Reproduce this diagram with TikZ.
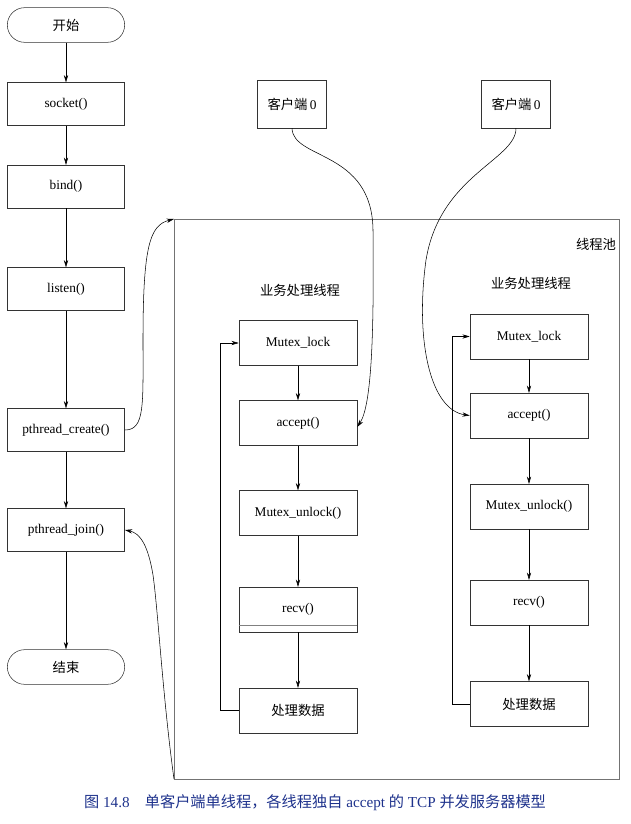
\documentclass[tikz,border=0pt]{standalone}
\usepackage{fontspec}
\setmainfont{Liberation Serif}
\newfontfamily\cjk{Noto Sans CJK SC}
\usetikzlibrary{arrows.meta}

\tikzset{
  box/.style={draw=black!80, minimum width=88pt, minimum height=32pt, inner sep=1pt, font=\normalsize},
  term/.style={box, rounded corners=13pt, minimum height=26pt},
  tbox/.style={draw=black!80, minimum width=88.5pt, minimum height=33.5pt, inner sep=1pt, font=\normalsize},
  cbox/.style={draw=black!80, minimum width=52pt, minimum height=36pt, inner sep=1pt, font=\normalsize},
  zh/.style={font=\normalsize\cjk},
  arr/.style={-{Stealth[length=5.5pt,width=3.2pt]}, thin},
}

\begin{document}
\begin{tikzpicture}[x=0.75pt, y=-0.75pt]

  \useasboundingbox (0,0) rectangle (631,824);

  % --- Thread utama (kolom kiri) ---
  \node[term] (start)  at (66,25)    {\cjk 开始};
  \node[box]  (sock)   at (66,104)   {socket()};
  \node[box]  (bind)   at (66,186.5) {bind()};
  \node[box]  (listen) at (66,289)   {listen()};
  \node[box]  (create) at (66,430)   {pthread\_create()};
  \node[box]  (join)   at (66,530)   {pthread\_join()};
  \node[term] (end)    at (66,667)   {\cjk 结束};

  \draw[arr] (start) -- (sock);
  \draw[arr] (sock) -- (bind);
  \draw[arr] (bind) -- (listen);
  \draw[arr] (listen) -- (create);
  \draw[arr] (create) -- (join);
  \draw[arr] (join) -- (end);

  % --- Kotak thread pool ---
  \coordinate (poolnw) at (174,219);
  \coordinate (poolsw) at (174,779);
  \draw[black!55] (poolnw) rectangle (619,779);
  \node[zh] (pool) at (596,244) {线程池};

  % --- Thread pekerja 1 ---
  \node[zh] (title1) at (300,290) {业务处理线程};
  \node[tbox] (lockA)   at (298,343)   {Mutex\_lock};
  \node[tbox] (acceptA) at (298,423)   {accept()};
  \node[tbox] (unlockA) at (298,513)   {Mutex\_unlock()};
  \node[tbox] (recvA)   at (298,609.5) {recv()};
  \node[tbox] (procA)   at (298,710.5) {\cjk 处理数据};
  \draw[black!50] ([yshift=5pt]recvA.south west) -- ([yshift=5pt]recvA.south east);

  \draw[arr] (lockA) -- (acceptA);
  \draw[arr] (acceptA) -- (unlockA);
  \draw[arr] (unlockA) -- (recvA);
  \draw[arr] (recvA) -- (procA);
  \draw[arr] (procA.west) -- ++(-18,0) |- (lockA.west);

  % --- Thread pekerja 2 ---
  \node[zh] (title2) at (531,283) {业务处理线程};
  \node[tbox] (lockB)   at (529,336.5) {Mutex\_lock};
  \node[tbox] (acceptB) at (529,415.5) {accept()};
  \node[tbox] (unlockB) at (529,506.5) {Mutex\_unlock()};
  \node[tbox] (recvB)   at (529,602.5) {recv()};
  \node[tbox] (procB)   at (529,704)   {\cjk 处理数据};

  \draw[arr] (lockB) -- (acceptB);
  \draw[arr] (acceptB) -- (unlockB);
  \draw[arr] (unlockB) -- (recvB);
  \draw[arr] (recvB) -- (procB);
  \draw[arr] (procB.west) -- ++(-17,0) |- (lockB.west);

  % --- Klien ---
  \node[cbox] (clientA) at (292,104) {{\cjk 客户端}\,0};
  \node[cbox] (clientB) at (516,104) {{\cjk 客户端}\,0};

  \draw[arr] (clientA.south) .. controls (293,160) and (372,150) .. (373,230)
             .. controls (374,330) and (372,405) .. ([yshift=-3pt]acceptA.east);
  \draw[arr] (clientB.south) .. controls (516,160) and (440,175) .. (426,260)
             .. controls (415,340) and (430,410) .. (acceptB.west);

  % --- Buat dan gabung thread ---
  \draw[arr] (create.east) .. controls (145,430) and (143,405) .. (143,340)
             .. controls (143,245) and (150,225) .. (poolnw);
  \draw[arr] (poolsw) .. controls (163,700) and (158,610) .. (153,575)
             .. controls (148,545) and (140,533) .. (join.east);

  % --- Keterangan gambar ---
  \node[text={rgb,255:red,30;green,50;blue,140}, font=\fontsize{11.4}{13}\selectfont] (caption) at (315,803)
    {{\cjk 图} 14.8\quad{\cjk 单客户端单线程，各线程独自} accept {\cjk 的} TCP {\cjk 并发服务器模型}};

\end{tikzpicture}
\end{document}
